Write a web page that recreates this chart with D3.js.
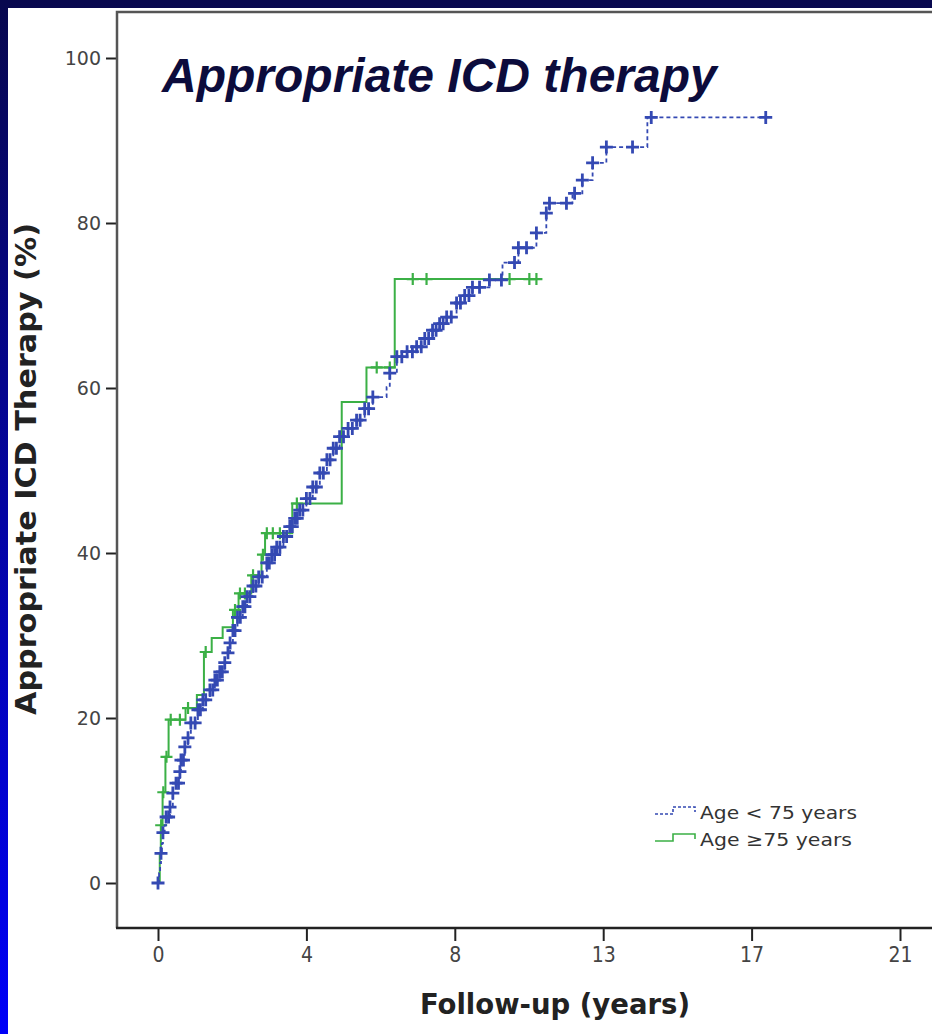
<!DOCTYPE html>
<html>
<head>
<meta charset="utf-8">
<script src="https://cdn.jsdelivr.net/npm/d3@7"></script>
<style>
  html, body { margin: 0; padding: 0; background: #ffffff; }
  svg { display: block; }
</style>
</head>
<body>
<svg id="chart" width="932" height="1034"></svg>
<script>
// Age < 75 years: event times (years) and cumulative incidence (%)
const youngTimes = [0.03, 0.06, 0.085, 0.11, 0.14, 0.19, 0.23, 0.34, 0.42, 0.51,
  0.62, 0.65, 0.76, 0.85, 0.93, 1.13, 1.27, 1.47, 1.61, 1.75,
  1.89, 1.98, 2.04, 2.12, 2.25, 2.40, 2.52, 2.69, 2.85, 3.08,
  3.22, 3.36, 3.55, 3.73, 3.87, 4.01, 4.20, 4.38, 4.58, 4.78,
  4.96, 5.14, 5.38, 5.62, 5.85, 6.08, 6.47, 6.56, 6.76, 7.05,
  7.32, 7.55, 7.77, 7.97, 8.17, 8.45, 8.68, 8.90, 9.38, 9.75,
  10.20, 10.71, 10.99, 11.08, 11.73, 12.01, 12.30, 12.69, 13.85];
const youngPct = [1.2, 2.4, 3.6, 4.8, 6.1, 7.0, 8.0, 9.2, 10.9, 12.1,
  13.5, 14.9, 16.5, 17.6, 19.4, 21.0, 22.2, 23.4, 24.6, 25.6,
  26.7, 27.9, 29.1, 30.6, 32.2, 33.5, 34.7, 36.0, 37.1, 38.8,
  39.8, 40.7, 42.0, 43.2, 44.2, 45.2, 46.6, 48.0, 49.7, 51.3,
  52.7, 54.1, 55.1, 56.1, 57.5, 58.9, 60.1, 61.8, 63.8, 64.4,
  65.0, 66.0, 67.0, 67.8, 68.6, 70.3, 71.2, 72.2, 73.1, 75.2,
  77.0, 78.8, 81.2, 82.4, 83.6, 85.2, 87.3, 89.2, 92.8];
// censored follow-up times (years)
const youngCensored = [0, 0.085, 0.14, 0.23, 0.30, 0.34, 0.42, 0.51, 0.58, 0.62,
  0.65, 0.72, 0.76, 0.85, 0.93, 1.05, 1.13, 1.20, 1.27, 1.35,
  1.47, 1.55, 1.61, 1.68, 1.75, 1.82, 1.89, 1.98, 2.04, 2.12,
  2.18, 2.25, 2.33, 2.40, 2.46, 2.52, 2.60, 2.69, 2.77, 2.85,
  2.95, 3.08, 3.15, 3.22, 3.30, 3.36, 3.45, 3.55, 3.64, 3.73,
  3.80, 3.87, 3.94, 4.01, 4.10, 4.20, 4.30, 4.38, 4.48, 4.58,
  4.68, 4.78, 4.87, 4.96, 5.05, 5.14, 5.25, 5.38, 5.50, 5.62,
  5.72, 5.85, 5.96, 6.08, 6.56, 6.76, 6.90, 7.05, 7.20, 7.32,
  7.45, 7.55, 7.66, 7.77, 7.87, 7.97, 8.07, 8.17, 8.30, 8.45,
  8.56, 8.68, 8.80, 8.90, 9.10, 9.38, 9.72, 10.09, 10.20, 10.43,
  10.71, 10.99, 11.08, 11.56, 11.79, 12.01, 12.30, 12.69, 13.43, 13.96, 17.2];
const youngEnd = 17.2;

// Age >= 75 years
const oldTimes = [0.05, 0.08, 0.13, 0.21, 0.30, 0.78, 1.10, 1.30, 1.52, 1.83,
  2.12, 2.28, 2.64, 2.93, 3.03, 3.80, 5.20, 5.90, 6.70];
const oldPct = [3.5, 7.0, 11.0, 15.3, 19.8, 21.2, 22.8, 28.0, 29.7, 31.0,
  33.1, 35.1, 37.3, 39.8, 42.4, 46.0, 58.3, 62.5, 73.2];
const oldCensored = [0.09, 0.15, 0.24, 0.36, 0.62, 0.85, 1.35, 2.18, 2.32, 2.46,
  2.69, 2.97, 3.08, 3.25, 3.45, 3.93, 6.19, 6.56, 7.21, 7.60,
  9.95, 10.51, 10.71];
const oldEnd = 10.71;

const xTickValues = [0, 4.2, 8.4, 12.6, 16.8, 21];
const yTickValues = [0, 20, 40, 60, 80, 100];
const seriesNames = ["Age < 75 years", "Age \u226575 years"];

const chartTitle = "Appropriate ICD therapy";
const xTitle = "Follow-up (years)";
const yTitle = "Appropriate ICD Therapy (%)";

const W = 932, H = 1034;
const svg = d3.select("#chart");

// slide background: navy-to-blue gradient with a white panel
const defs = svg.append("defs");
const grad = defs.append("linearGradient").attr("id", "bg")
  .attr("x1", 0).attr("y1", 0).attr("x2", 0).attr("y2", 1);
grad.append("stop").attr("offset", "0%").attr("stop-color", "#08084e");
grad.append("stop").attr("offset", "100%").attr("stop-color", "#0000f8");
svg.append("rect").attr("width", W).attr("height", H).attr("fill", "url(#bg)");
svg.append("rect").attr("x", 8).attr("y", 8).attr("width", W - 8).attr("height", H - 8).attr("fill", "#ffffff");

// plot frame
const frame = { left: 117, top: 12, right: 940, bottom: 928 };

const x = d3.scaleLinear().domain([0, 21]).range([158, 900]);
const y = d3.scaleLinear().domain([0, 100]).range([883, 58]);

// axes
const yAxis = d3.axisLeft(y).tickValues(yTickValues).tickSize(11).tickPadding(5);
const gy = svg.append("g").attr("transform", `translate(${frame.left},0)`).call(yAxis);
gy.select(".domain").remove();
gy.selectAll(".tick line").attr("stroke", "#222").attr("stroke-width", 2);
gy.selectAll(".tick text")
  .attr("fill", "#444")
  .style("font-family", "'DejaVu Sans', sans-serif")
  .style("font-size", "19px");

const xAxis = d3.axisBottom(x).tickValues(xTickValues).tickFormat(d3.format(".0f"))
  .tickSize(13).tickPadding(6);
const gx = svg.append("g").attr("transform", `translate(0,${frame.bottom})`).call(xAxis);
gx.select(".domain").remove();
gx.selectAll(".tick line").attr("stroke", "#222").attr("stroke-width", 2);
gx.selectAll(".tick text")
  .attr("fill", "#444")
  .style("font-family", "'DejaVu Sans Condensed', 'DejaVu Sans', sans-serif")
  .style("font-stretch", "condensed")
  .style("font-size", "21px");

svg.append("path")
  .attr("d", `M${frame.left},${frame.bottom}V${frame.top}H${frame.right}`)
  .attr("fill", "none").attr("stroke", "#555").attr("stroke-width", 2.5);
svg.append("path")
  .attr("d", `M${frame.left - 1},${frame.bottom}H${frame.right}`)
  .attr("fill", "none").attr("stroke", "#222").attr("stroke-width", 2.5);

// axis titles
svg.append("text")
  .attr("x", 555).attr("y", 1014)
  .attr("text-anchor", "middle")
  .attr("fill", "#222")
  .attr("textLength", 270)
  .attr("lengthAdjust", "spacingAndGlyphs")
  .style("font-family", "'DejaVu Sans Condensed', 'DejaVu Sans', sans-serif")
  .style("font-stretch", "condensed")
  .style("font-weight", "bold")
  .style("font-size", "29px")
  .text(xTitle);

svg.append("text")
  .attr("transform", "translate(36,469) rotate(-90)")
  .attr("text-anchor", "middle")
  .attr("fill", "#222")
  .attr("textLength", 492)
  .attr("lengthAdjust", "spacingAndGlyphs")
  .style("font-family", "'DejaVu Sans Condensed', 'DejaVu Sans', sans-serif")
  .style("font-stretch", "condensed")
  .style("font-weight", "bold")
  .style("font-size", "28px")
  .text(yTitle);

// chart title
svg.append("text")
  .attr("x", 162).attr("y", 92)
  .attr("fill", "#0c0c3c")
  .style("font-family", "'Liberation Sans', Arial, sans-serif")
  .style("font-weight", "bold")
  .style("font-style", "italic")
  .style("font-size", "48px")
  .text(chartTitle);

// step curves
function stepPoints(times, pct, end) {
  const pts = [[0, 0]];
  times.forEach((t, i) => pts.push([t, pct[i]]));
  pts.push([end, pct[pct.length - 1]]);
  return pts;
}
function valueAt(times, pct, t) {
  const i = d3.bisectRight(times, t) - 1;
  return i < 0 ? 0 : pct[i];
}
const line = d3.line().x(d => x(d[0])).y(d => y(d[1])).curve(d3.curveStepAfter);
const cross = (h) => `M${-h},0H${h}M0,${-h}V${h}`;

const green = "#3bb046";
const blue = "#3449b3";

// Age >= 75
svg.append("path")
  .attr("d", line(stepPoints(oldTimes, oldPct, oldEnd)))
  .attr("fill", "none").attr("stroke", green).attr("stroke-width", 2);
svg.append("g").selectAll("path").data(oldCensored).join("path")
  .attr("transform", d => `translate(${x(d)},${y(valueAt(oldTimes, oldPct, d))})`)
  .attr("d", cross(6))
  .attr("stroke", green).attr("stroke-width", 2.2).attr("fill", "none");

// Age < 75
svg.append("path")
  .attr("d", line(stepPoints(youngTimes, youngPct, youngEnd)))
  .attr("fill", "none").attr("stroke", blue).attr("stroke-width", 1.8)
  .attr("stroke-dasharray", "4,3");
svg.append("g").selectAll("path").data(youngCensored).join("path")
  .attr("transform", d => `translate(${x(d)},${y(valueAt(youngTimes, youngPct, d))})`)
  .attr("d", cross(6.5))
  .attr("stroke", blue).attr("stroke-width", 2.8).attr("fill", "none");

// legend
const legend = svg.append("g");
const legendItems = [
  { name: seriesNames[0], color: blue, dash: "3,2", yy: 814 },
  { name: seriesNames[1], color: green, dash: null, yy: 841 }
];
legendItems.forEach(it => {
  legend.append("path")
    .attr("d", `M655,${it.yy}H673V${it.yy - 7}H695V${it.yy - 2}`)
    .attr("fill", "none").attr("stroke", it.color).attr("stroke-width", 1.6)
    .attr("stroke-dasharray", it.dash);
  legend.append("text")
    .attr("x", 700).attr("y", it.yy + 5)
    .attr("fill", "#333")
    .attr("textLength", it === legendItems[0] ? 157 : 152)
    .attr("lengthAdjust", "spacingAndGlyphs")
    .style("font-family", "'DejaVu Sans', sans-serif")
    .style("font-size", "18px")
    .text(it.name);
});
</script>
</body>
</html>
